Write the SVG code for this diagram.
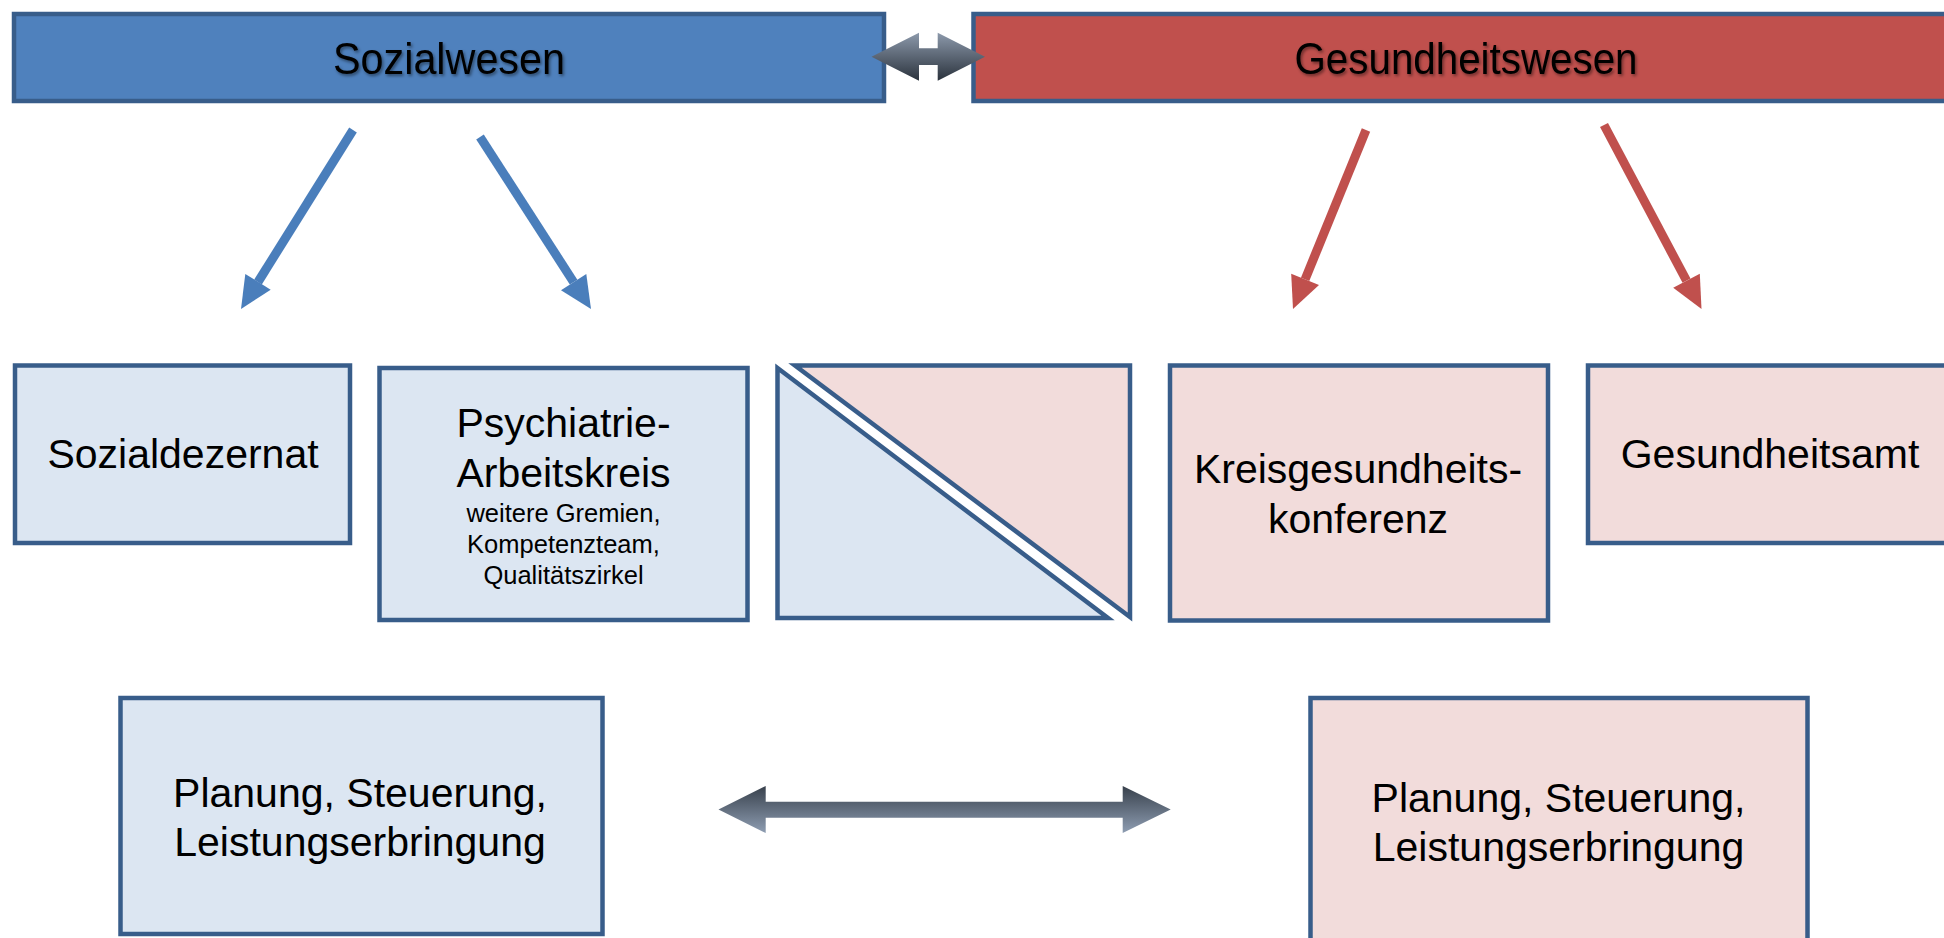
<svg xmlns="http://www.w3.org/2000/svg" width="1944" height="938" viewBox="0 0 1944 938">
<style>
.box{stroke:#385D8A;stroke-width:4.5;}
.lb{fill:#DCE6F2;}
.lp{fill:#F2DCDB;}
.t{font-family:"Liberation Sans",Arial,sans-serif;fill:#000;text-anchor:middle;}
.big{font-size:41px;}
.small{font-size:25.5px;}
.hdr{font-size:45px;filter:url(#sh);}
.ab{stroke:#4A7EBB;stroke-width:9;fill:none;}
.ar{stroke:#C0504D;stroke-width:9;fill:none;}
</style>
<defs>
<linearGradient id="gTop" x1="0" y1="0" x2="0" y2="1">
<stop offset="0" stop-color="#8C99AB"/>
<stop offset="1" stop-color="#2B333D"/>
</linearGradient>
<linearGradient id="gBot" x1="0" y1="0" x2="0" y2="1">
<stop offset="0" stop-color="#38414C"/>
<stop offset="1" stop-color="#8E9DB2"/>
</linearGradient>
<filter id="sh" x="-10%" y="-30%" width="120%" height="160%">
<feDropShadow dx="1.5" dy="2" stdDeviation="1.5" flood-color="#000" flood-opacity="0.45"/>
</filter>
</defs>
<rect width="1944" height="938" fill="#fff"/>

<g id="sozialwesen">
<rect class="box" x="14" y="14" width="870" height="87" fill="#4F81BD"/>
<text class="t hdr" x="449" y="73.5" textLength="232" lengthAdjust="spacingAndGlyphs">Sozialwesen</text>
</g>
<g id="gesundheitswesen">
<rect class="box" x="973.5" y="14" width="1000" height="87" fill="#C0504D"/>
<text class="t hdr" x="1466" y="73.5" textLength="343" lengthAdjust="spacingAndGlyphs">Gesundheitswesen</text>
</g>

<g id="sozialdezernat">
<rect class="box lb" x="15" y="365.5" width="335" height="177.5"/>
<text class="t big" x="183" y="468">Sozialdezernat</text>
</g>
<g id="psychiatrie">
<rect class="box lb" x="379.5" y="368" width="368" height="252"/>
<text class="t big" x="563.5" y="437">Psychiatrie-</text>
<text class="t big" x="563.5" y="487">Arbeitskreis</text>
<text class="t small" x="563.5" y="522">weitere Gremien,</text>
<text class="t small" x="563.5" y="553">Kompetenzteam,</text>
<text class="t small" x="563.5" y="584">Qualitätszirkel</text>
</g>
<g id="split">
<polygon class="box lb" points="777.5,368 777.5,618 1108,618"/>
<polygon class="box lp" points="795,365.5 1130,365.5 1130,617"/>
</g>
<g id="kreisgesundheitskonferenz">
<rect class="box lp" x="1170" y="365.5" width="378" height="255"/>
<text class="t big" x="1358" y="483">Kreisgesundheits-</text>
<text class="t big" x="1358" y="533">konferenz</text>
</g>
<g id="gesundheitsamt">
<rect class="box lp" x="1588" y="365.5" width="400" height="177.5"/>
<text class="t big" x="1770" y="468">Gesundheitsamt</text>
</g>
<g id="planung-sozial">
<rect class="box lb" x="120.5" y="698" width="482" height="236"/>
<text class="t big" x="360" y="807">Planung, Steuerung,</text>
<text class="t big" x="360" y="856">Leistungserbringung</text>
</g>
<g id="planung-gesundheit">
<rect class="box lp" x="1310.5" y="698" width="497" height="260"/>
<text class="t big" x="1558.5" y="812">Planung, Steuerung,</text>
<text class="t big" x="1558.5" y="861">Leistungserbringung</text>
</g>

<g id="connectors">
<line class="ab" x1="353" y1="130" x2="258" y2="282"/>
<polygon fill="#4A7EBB" points="241,309 270.7,289.8 245.3,273.9"/>
<line class="ab" x1="480" y1="137" x2="573.6" y2="282.1"/>
<polygon fill="#4A7EBB" points="591,309 561,290.2 586.3,274"/>
<line class="ar" x1="1366" y1="130" x2="1305.1" y2="279.4"/>
<polygon fill="#C0504D" points="1293,309 1319,285 1291.2,273.7"/>
<line class="ar" x1="1604" y1="125" x2="1686.5" y2="280.7"/>
<polygon fill="#C0504D" points="1701.5,309 1673.2,287.7 1699.8,273.7"/>
<polygon fill="url(#gTop)" points="871.5,56.7 919,32.7 919,48.3 937.7,48.3 937.7,32.7 985,56.7 937.7,80.7 937.7,65 919,65 919,80.7"/>
<polygon fill="url(#gBot)" points="718.5,809.5 765.7,786 765.7,801.7 1122.7,801.7 1122.7,786 1170.7,809.5 1122.7,833 1122.7,817.7 765.7,817.7 765.7,833"/>
</g>
</svg>
